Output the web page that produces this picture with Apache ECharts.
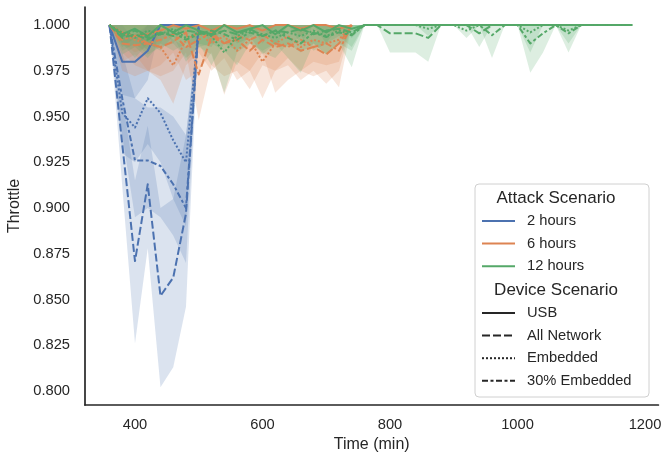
<!DOCTYPE html>
<html><head><meta charset="utf-8">
<script src="https://cdn.jsdelivr.net/npm/echarts@6/dist/echarts.min.js"></script>
<style>html,body{margin:0;padding:0;background:#fff}#c{width:661px;height:459px}</style>
</head><body><div id="c"></div>
<script>
// ---- tick labels ----
const xTicks = [400, 600, 800, 1000, 1200];
const yTicks = [0.800, 0.825, 0.850, 0.875, 0.900, 0.925, 0.950, 0.975, 1.000];

// ---- time grids (min) ----
const times2h = [360,380,400,420,440,460,480,500];
const times6h = [360,380,400,420,440,460,480,500,520,540,560,580,600,620,640,660,680,700,720,740];
const times12h = [360,380,400,420,440,460,480,500,520,540,560,580,600,620,640,660,680,700,720,740,
                  760,780,800,820,840,860,880,900,920,940,960,980,1000,1020,1040,1060,1080,1100,1120,1140,1160,1180];

// ---- Attack 2 hours ----
const usb2    = [1.000,0.980,0.980,0.986,1.000,1.000,1.000,1.000];
const usb2Lo  = [1.000,0.962,0.960,0.970,1.000,1.000,1.000,1.000];
const usb2Hi  = [1.000,0.995,0.995,1.000,1.000,1.000,1.000,1.000];
const net2    = [1.000,0.935,0.871,0.913,0.852,0.862,0.897,1.000];
const net2Lo  = [1.000,0.912,0.826,0.878,0.802,0.813,0.846,1.000];
const net2Hi  = [1.000,0.960,0.915,0.945,0.900,0.905,0.940,1.000];
const emb2    = [1.000,0.952,0.944,0.960,0.952,0.937,0.925,1.000];
const emb2Lo  = [1.000,0.930,0.925,0.935,0.925,0.905,0.890,1.000];
const emb2Hi  = [1.000,1.000,0.992,1.000,0.998,0.992,0.988,1.000];
const e302    = [1.000,0.960,0.926,0.926,0.923,0.913,0.900,1.000];
const e302Lo  = [1.000,0.940,0.895,0.900,0.895,0.885,0.870,1.000];
const e302Hi  = [1.000,0.985,0.960,0.955,0.955,0.950,0.940,1.000];

// ---- Attack 6 hours ----
const usb6   = [1,0.996,0.994,0.995,0.997,1,0.998,1,0.997,1,0.998,1,0.997,1,1,0.998,1,1,0.998,1];
const usb6Lo = [1,0.990,0.985,0.988,0.990,1,0.994,1,0.990,1,0.994,1,0.990,1,1,0.994,1,1,0.994,1];
const net6   = [1,0.990,0.989,0.990,0.988,0.991,0.996,0.973,0.994,0.990,0.992,0.986,0.992,0.988,0.990,0.986,0.988,0.984,0.990,1];
const net6Lo = [1,0.975,0.972,0.975,0.972,0.975,0.985,0.948,0.978,0.972,0.975,0.965,0.978,0.975,0.978,0.970,0.975,0.968,0.975,1];
const emb6   = [1,0.995,0.992,0.990,0.988,0.978,0.992,0.996,0.990,0.994,0.986,0.992,0.980,0.990,0.994,0.988,0.992,0.990,0.992,1];
const emb6Lo = [1,0.985,0.978,0.975,0.970,0.957,0.978,0.985,0.975,0.982,0.970,0.975,0.960,0.975,0.982,0.975,0.980,0.978,0.980,1];
const e306   = [1,0.992,0.994,0.990,0.992,0.995,0.988,0.992,0.996,0.990,0.994,0.992,0.995,0.990,0.988,0.992,0.988,0.990,0.986,1];
const e306Lo = [1,0.980,0.984,0.975,0.978,0.985,0.970,0.975,0.985,0.962,0.980,0.975,0.985,0.963,0.970,0.975,0.972,0.975,0.966,1];

// ---- Attack 12 hours ----
const usb12   = [1,0.995,0.998,0.994,1,0.996,1,0.997,0.995,1,0.996,0.998,1,0.995,1,0.997,1,0.996,1,0.998,
                 1,1,1,1,1,1,1,1,1,1,1,1,1,1,1,1,1,1,1,1,1,1];
const usb12Lo = [1,0.988,0.993,0.986,1,0.990,1,0.990,0.988,1,0.990,0.993,1,0.988,1,0.990,1,0.990,1,0.993,
                 1,1,1,1,1,1,1,1,1,1,1,1,1,1,1,1,1,1,1,1,1,1];
const net12   = [1,0.993,0.995,0.992,0.996,0.994,0.997,0.996,0.9945,0.997,0.995,0.998,0.994,0.997,0.996,0.998,0.995,0.997,0.998,0.996,
                 1,1,0.9955,0.9955,0.9955,0.993,1,1,1,0.9955,1,1,1,1,1,1,1,1,1,1,1,1];
const net12Lo = [1,0.984,0.988,0.982,0.990,0.986,0.990,0.990,0.978,0.990,0.986,0.994,0.984,0.990,0.988,0.994,0.986,0.990,0.994,0.988,
                 1,1,0.985,0.985,0.985,0.980,1,1,1,0.988,1,1,1,1,1,1,1,1,1,1,1,1];
const emb12   = [1,0.996,0.993,0.997,0.995,0.998,0.993,0.996,0.994,0.985,0.994,0.997,0.995,0.993,0.996,0.994,0.997,0.994,0.997,0.995,
                 1,1,1,1,1,0.998,1,1,0.997,1,1,1,1,0.996,1,1,0.997,1,1,1,1,1];
const emb12Lo = [1,0.990,0.982,0.990,0.986,0.994,0.980,0.988,0.984,0.963,0.985,0.990,0.985,0.982,0.990,0.985,0.990,0.984,0.990,0.986,
                 1,1,1,1,1,0.994,1,1,0.993,1,1,1,1,0.985,1,1,0.990,1,1,1,1,1];
const e3012   = [1,0.994,0.997,0.993,0.995,0.996,0.992,0.995,0.997,0.995,0.992,0.996,0.994,0.997,0.993,0.990,0.996,0.9935,0.996,0.9945,
                 1,1,1,1,1,1,1,1,1,1,0.9945,1,1,0.990,0.9955,1,0.9955,1,1,1,1,1];
const e3012Lo = [1,0.986,0.990,0.984,0.988,0.990,0.982,0.988,0.990,0.986,0.978,0.990,0.986,0.990,0.982,0.974,0.990,0.984,0.990,0.977,
                 1,1,1,1,1,1,1,1,1,1,0.982,1,1,0.974,0.985,1,0.985,1,1,1,1,1];

const THROTTLE_MAX = 1.0; // throttle is capped at 1: upper CI bound for 6h/12h runs

const hueNames = ['2 hours','6 hours','12 hours'];
const styleNames = ['USB','All Network','Embedded','30% Embedded'];
const colors = ['#4C72B0','#DD8452','#55A868'];
const bandFills = ['rgba(76,114,176,0.2)','rgba(221,132,82,0.2)','rgba(85,168,104,0.2)'];
const dashes = ['solid',[8,3],[2,2],[6,2.5,3,2.5]];
const FONT = 'Liberation Sans, Arial, sans-serif';
const TXT = '#262626';

const groups = [
  {h:0,s:0,t:times2h,v:usb2,lo:usb2Lo,hi:usb2Hi},
  {h:0,s:1,t:times2h,v:net2,lo:net2Lo,hi:net2Hi},
  {h:0,s:2,t:times2h,v:emb2,lo:emb2Lo,hi:emb2Hi},
  {h:0,s:3,t:times2h,v:e302,lo:e302Lo,hi:e302Hi},
  {h:1,s:0,t:times6h,v:usb6,lo:usb6Lo},
  {h:1,s:1,t:times6h,v:net6,lo:net6Lo},
  {h:1,s:2,t:times6h,v:emb6,lo:emb6Lo},
  {h:1,s:3,t:times6h,v:e306,lo:e306Lo},
  {h:2,s:0,t:times12h,v:usb12,lo:usb12Lo},
  {h:2,s:1,t:times12h,v:net12,lo:net12Lo},
  {h:2,s:2,t:times12h,v:emb12,lo:emb12Lo},
  {h:2,s:3,t:times12h,v:e3012,lo:e3012Lo}
];

const series = [];
groups.forEach((g) => {
  const hi = g.hi || g.t.map(() => THROTTLE_MAX);
  series.push({
    type:'custom', coordinateSystem:'cartesian2d', silent:true, z:1, clip:true,
    data:g.t.map((x,i)=>[x, g.lo[i], hi[i]]),
    encode:{x:0, y:[1,2]},
    renderItem:(params, api) => {
      if (params.dataIndex !== 0) return null;
      const up = g.t.map((x,i)=>api.coord([x, hi[i]]));
      const dn = g.t.map((x,i)=>api.coord([x, g.lo[i]])).reverse();
      return {type:'polygon', shape:{points:up.concat(dn)}, style:{fill:bandFills[g.h], stroke:null}};
    }
  });
});
groups.forEach((g) => {
  series.push({
    type:'line', silent:true, symbol:'none', z:2,
    lineStyle:{color:colors[g.h], width:2, type:dashes[g.s], join:'round'},
    data:g.t.map((x,i)=>[x,g.v[i]])
  });
});

// legend drawn as graphic
const LX = 475, LY = 184;
const gfx = [{type:'rect', shape:{x:LX, y:LY, width:174, height:213, r:4},
  style:{fill:'rgba(255,255,255,0.8)', stroke:'#d0d0d0', lineWidth:1}, z:10}];
function title(txt, y){ gfx.push({type:'text', x:556, y:y, z:11,
  style:{text:txt, font:'17px '+FONT, fill:TXT, textAlign:'center', textVerticalAlign:'middle'}}); }
function entry(txt, y, color, dash){
  gfx.push({type:'line', z:11, shape:{x1:482,y1:y,x2:515,y2:y},
    style:{stroke:color, lineWidth:2, lineDash: dash==='solid'?null:dash}});
  gfx.push({type:'text', x:527, y:y, z:11,
    style:{text:txt, font:'14.7px '+FONT, fill:TXT, textAlign:'left', textVerticalAlign:'middle'}});
}
title('Attack Scenario', 198);
hueNames.forEach((n,i)=>entry(n, 221+i*22.6, colors[i], 'solid'));
title('Device Scenario', 290);
styleNames.forEach((n,i)=>entry(n, 313+i*22.6, '#262626', dashes[i]));

const chart = echarts.init(document.getElementById('c'), null, {renderer:'canvas'});
chart.setOption({
  animation:false,
  backgroundColor:'#ffffff',
  grid:{left:85, right:2.6, top:7, bottom:54, containLabel:false, outerBoundsMode:'none'},
  xAxis:{type:'value', min:321.6, max:1221,
    name:'Time (min)', nameLocation:'middle', nameGap:31,
    nameTextStyle:{fontFamily:FONT, fontSize:16, color:TXT},
    axisLine:{show:true, onZero:false, lineStyle:{color:TXT, width:1.7}},
    axisTick:{show:false}, splitLine:{show:false},
    axisLabel:{customValues:xTicks, fontFamily:FONT, fontSize:14.7, color:TXT, margin:12,
      formatter:v=>String(Math.round(v))}},
  yAxis:{type:'value', min:0.79235, max:1.0099,
    name:'Throttle', nameLocation:'middle', nameGap:60, nameRotate:90,
    nameTextStyle:{fontFamily:FONT, fontSize:16, color:TXT},
    axisLine:{show:true, onZero:false, lineStyle:{color:TXT, width:1.7}},
    axisTick:{show:false}, splitLine:{show:false},
    axisLabel:{customValues:yTicks, fontFamily:FONT, fontSize:14.7, color:TXT, margin:15,
      formatter:v=>v.toFixed(3)}},
  series:series,
  graphic:gfx
});
</script></body></html>
